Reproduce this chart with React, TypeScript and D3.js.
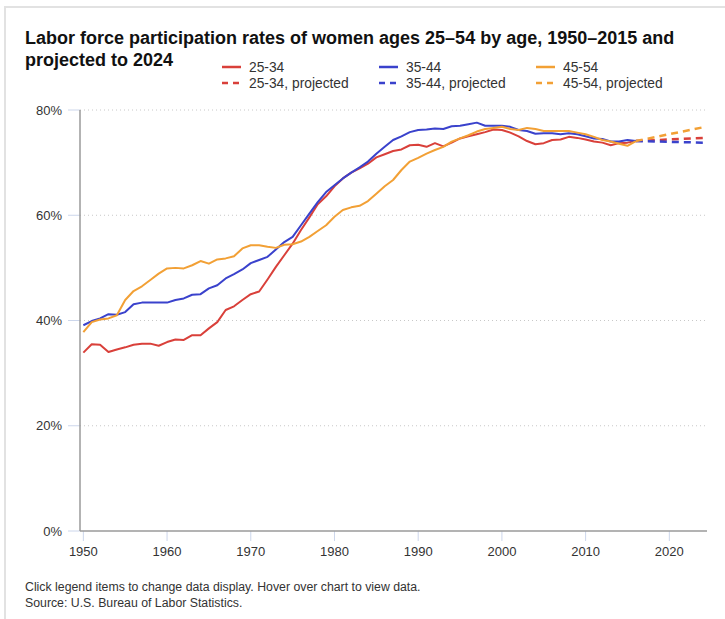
import React from "react";
import * as d3 from "d3";

const YEARS = d3.range(1950, 2017);

const AGE_25_34 = [
  33.9, 35.5, 35.4, 34.0, 34.5, 34.9, 35.4, 35.6, 35.6, 35.2,
  35.9, 36.4, 36.3, 37.2, 37.2, 38.5, 39.7, 42.0, 42.7, 43.9,
  45.0, 45.5, 47.8, 50.2, 52.4, 54.6, 57.2, 59.6, 62.1, 63.6,
  65.5, 67.0, 68.1, 68.9, 69.8, 71.0, 71.6, 72.2, 72.5, 73.3,
  73.4, 73.0, 73.7, 73.1, 73.8, 74.6, 75.0, 75.4, 75.8, 76.3,
  76.2, 75.7, 75.0, 74.1, 73.5, 73.7, 74.3, 74.4, 74.9, 74.7,
  74.4, 74.0, 73.8, 73.3, 73.7, 73.8, 74.1,
];

const AGE_35_44 = [
  39.1, 39.9, 40.4, 41.2, 41.1, 41.6, 43.1, 43.4, 43.4, 43.4,
  43.4, 43.9, 44.2, 44.9, 45.0, 46.1, 46.7, 48.0, 48.8, 49.7,
  50.9, 51.5, 52.1, 53.5, 54.9, 55.9, 58.1, 60.3, 62.5, 64.4,
  65.7, 67.0, 68.1, 69.1, 70.2, 71.7, 73.0, 74.3, 75.0, 75.8,
  76.2, 76.3, 76.5, 76.4, 76.9, 77.0, 77.3, 77.6, 77.0, 77.0,
  77.0, 76.8, 76.2, 76.0, 75.5, 75.6, 75.6, 75.4, 75.6, 75.4,
  75.0, 74.6, 74.5, 74.0, 74.0, 74.3, 74.1,
];

const AGE_45_54 = [
  37.8, 39.7, 40.2, 40.4, 41.0, 43.9, 45.6, 46.5, 47.7, 48.9,
  49.9, 50.0, 49.9, 50.5, 51.3, 50.8, 51.6, 51.8, 52.2, 53.7,
  54.3, 54.3, 54.0, 53.8, 54.4, 54.5, 55.0, 55.9, 57.0, 58.1,
  59.7, 61.0, 61.5, 61.8, 62.7, 64.1, 65.5, 66.7, 68.6, 70.2,
  70.9, 71.7, 72.4, 73.0, 74.0, 74.6, 75.2, 75.9, 76.4, 76.6,
  76.8, 76.4, 76.2, 76.6, 76.4, 76.0, 76.0, 76.0, 76.0, 75.7,
  75.4, 74.9, 74.3, 74.0, 73.6, 73.2, 74.1,
];

const PROJ_YEARS = [2016, 2024];
const PROJ_25_34 = [74.1, 74.7];
const PROJ_35_44 = [74.1, 73.8];
const PROJ_45_54 = [74.1, 76.7];

const X_TICKS = [1950, 1960, 1970, 1980, 1990, 2000, 2010, 2020];
const Y_TICKS = [0, 20, 40, 60, 80];

const RED = "#d9403a";
const BLUE = "#3a42cc";
const ORANGE = "#f2a035";

const SERIES = [
  { name: "25-34", values: AGE_25_34, proj: PROJ_25_34, color: RED },
  { name: "35-44", values: AGE_35_44, proj: PROJ_35_44, color: BLUE },
  { name: "45-54", values: AGE_45_54, proj: PROJ_45_54, color: ORANGE },
];

const FONT = "'Liberation Sans', Arial, sans-serif";

export default function App() {
  const W = 725;
  const H = 619;
  const left = 80;
  const right = 707;
  const top = 110;
  const bottom = 531;

  const x = d3.scaleLinear().domain([1949.6, 2024.5]).range([left, right]);
  const y = d3.scaleLinear().domain([0, 80]).range([bottom, top]);

  const line = d3
    .line<[number, number]>()
    .x((d) => x(d[0]))
    .y((d) => y(d[1]));

  const legendCols = [222, 379, 536];

  return (
    <svg
      width={W}
      height={H}
      style={{ position: "absolute", left: 0, top: 0, background: "#fff" }}
      fontFamily={FONT}
    >
      <rect x={5} y={7} width={760} height={660} fill="#fff" stroke="#e2e2e2" strokeWidth={2} />

      <text x={25} y={44} fontSize={18} fontWeight="bold" fill="#111">
        Labor force participation rates of women ages 25–54 by age, 1950–2015 and
      </text>
      <text x={25} y={66} fontSize={18} fontWeight="bold" fill="#111">
        projected to 2024
      </text>

      {SERIES.map((s, i) => (
        <g key={s.name}>
          <line x1={legendCols[i]} x2={legendCols[i] + 19} y1={67} y2={67} stroke={s.color} strokeWidth={2.5} />
          <text x={legendCols[i] + 27} y={71.5} fontSize={13.8} fill="#333">
            {s.name}
          </text>
          <line
            x1={legendCols[i]}
            x2={legendCols[i] + 19}
            y1={83}
            y2={83}
            stroke={s.color}
            strokeWidth={2.5}
            strokeDasharray="6 5"
          />
          <text x={legendCols[i] + 27} y={87.5} fontSize={13.8} fill="#333">
            {s.name}, projected
          </text>
        </g>
      ))}

      {Y_TICKS.filter((t) => t > 0).map((t) => (
        <line
          key={t}
          x1={left}
          x2={right}
          y1={y(t)}
          y2={y(t)}
          stroke="#c8c8c8"
          strokeWidth={1}
          strokeDasharray="1 3"
        />
      ))}

      {Y_TICKS.map((t) => (
        <g key={t}>
          <line x1={left - 12} x2={left} y1={y(t)} y2={y(t)} stroke="#ccd6eb" strokeWidth={1} />
          <text x={62} y={y(t) + 4.5} fontSize={13} fill="#333" textAnchor="end">
            {t}%
          </text>
        </g>
      ))}

      {X_TICKS.map((t) => (
        <g key={t}>
          <line x1={x(t)} x2={x(t)} y1={bottom} y2={bottom + 10} stroke="#ccd6eb" strokeWidth={1} />
          <text x={x(t)} y={556} fontSize={13} fill="#333" textAnchor="middle">
            {t}
          </text>
        </g>
      ))}

      <line x1={left} x2={left} y1={top} y2={bottom} stroke="#9a9a9a" strokeWidth={1.5} />
      <line x1={left} x2={right} y1={bottom} y2={bottom} stroke="#9a9a9a" strokeWidth={1.5} />

      {SERIES.map((s) => (
        <path
          key={s.name + "p"}
          d={line(PROJ_YEARS.map((yr, i) => [yr, s.proj[i]] as [number, number])) ?? ""}
          fill="none"
          stroke={s.color}
          strokeWidth={2.5}
          strokeDasharray="7 5"
        />
      ))}

      {SERIES.map((s) => (
        <path
          key={s.name}
          d={line(YEARS.map((yr, i) => [yr, s.values[i]] as [number, number])) ?? ""}
          fill="none"
          stroke={s.color}
          strokeWidth={2}
          strokeLinejoin="round"
        />
      ))}

      <text x={25} y={591} fontSize={12.3} fill="#333">
        Click legend items to change data display. Hover over chart to view data.
      </text>
      <text x={25} y={607} fontSize={12.3} fill="#333">
        Source: U.S. Bureau of Labor Statistics.
      </text>
    </svg>
  );
}
